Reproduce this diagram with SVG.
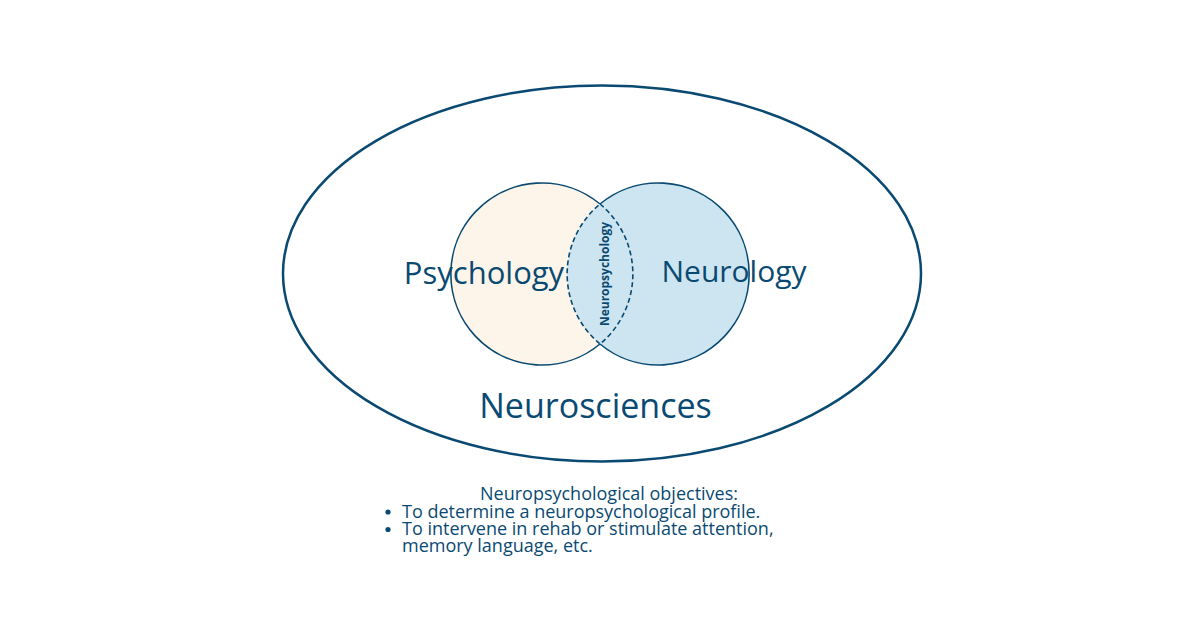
<svg xmlns="http://www.w3.org/2000/svg" width="1200" height="618" viewBox="0 0 1200 618">
<style>
.t{font-family:"Open Sans","Noto Sans",sans-serif;fill:#0a4a72}
.ln{fill:none;stroke:#0a4a72}
.b{font-size:18px}
</style>
<rect width="1200" height="618" fill="#ffffff"/>
<g id="neurosciences">
<ellipse cx="602" cy="273.5" rx="319" ry="188" class="ln" stroke-width="2.5"/>
<text class="t" x="595.5" y="418" font-size="34" text-anchor="middle">Neurosciences</text>
</g>
<g id="psychology">
<circle cx="542" cy="274" r="91" fill="#fdf5e9"/>
<path d="M600,204 A91,91 0 1,0 600,344" class="ln" stroke-width="1.6"/>
<text class="t" x="484" y="284" font-size="31" text-anchor="middle">Psychology</text>
</g>
<g id="neurology">
<circle cx="658" cy="274" r="91" fill="#cde5f0"/>
<path d="M600,204 A91,91 0 1,1 600,344" class="ln" stroke-width="1.6"/>
<text class="t" x="734" y="282" font-size="30" text-anchor="middle">Neurology</text>
</g>
<g id="neuropsychology">
<path d="M600,204 A91,91 0 0,1 600,344 A91,91 0 0,1 600,204 Z" fill="#e1eedf" class="ln" stroke-width="1.6" stroke-dasharray="5,3"/>
<text class="t" transform="translate(608.5,274) rotate(-90)" font-size="12" font-weight="bold" text-anchor="middle">Neuropsychology</text>
</g>
<g id="objectives">
<text class="t b" x="480" y="500">Neuropsychological objectives:</text>
<circle cx="388" cy="512" r="2.6" fill="#0a4a72"/>
<text class="t b" x="402" y="517.5">To determine a neuropsychological profile.</text>
<circle cx="388" cy="529.5" r="2.6" fill="#0a4a72"/>
<text class="t b" x="402" y="535">To intervene in rehab or stimulate attention,</text>
<text class="t b" x="402" y="552">memory language, etc.</text>
</g>
</svg>
